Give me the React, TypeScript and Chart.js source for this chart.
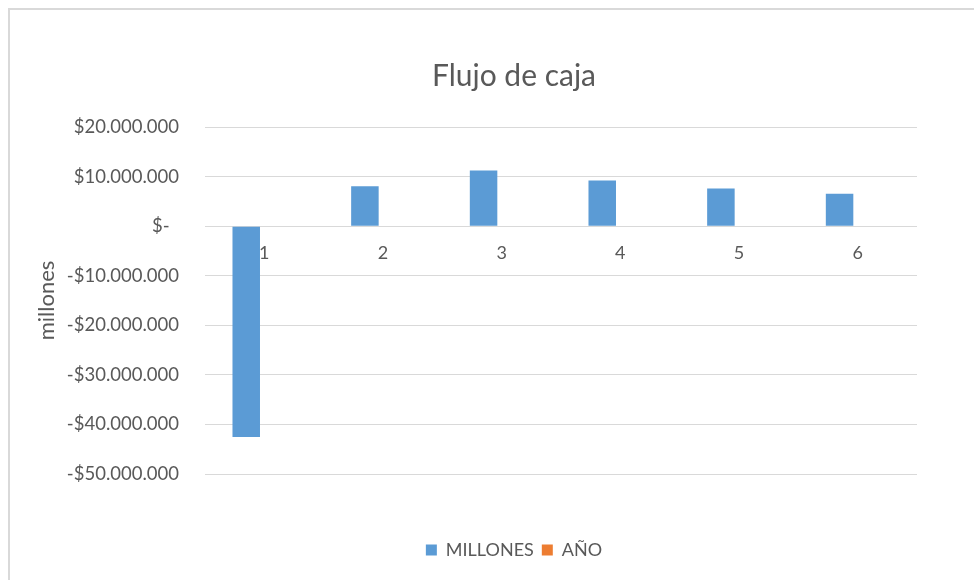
import React, { useEffect, useRef } from 'react';
import { Chart, registerables } from 'chart.js';

Chart.register(...registerables);

const categories = ['1', '2', '3', '4', '5', '6'];
const millones = [-42550000, 8070000, 11240000, 9220000, 7600000, 6540000];
const anio = [0, 0, 0, 0, 0, 0];
const seriesNames = ['MILLONES', 'AÑO'];
const chartTitle = 'Flujo de caja';
const yAxisTitle = 'millones';
const yMin = -50000000;
const yMax = 20000000;
const yStep = 10000000;

const TEXT = '#595959';
const GRID = '#d9d9d9';
const FONT = 'Lato, "Open Sans", sans-serif';

function formatMoney(v: number): string {
  if (v === 0) return '$-  ';
  const s = Math.abs(Math.round(v)).toString().replace(/\B(?=(\d{3})+(?!\d))/g, '.');
  return (v < 0 ? '-' : '') + '$' + s;
}

export default function App() {
  const ref = useRef<HTMLCanvasElement | null>(null);

  useEffect(() => {
    if (!ref.current) return;
    const chart = new Chart(ref.current, {
      type: 'bar',
      data: {
        labels: categories,
        datasets: [
          {
            label: seriesNames[0],
            data: millones,
            backgroundColor: '#5B9BD5',
            borderWidth: 0,
            categoryPercentage: 0.61,
            barPercentage: 0.76,
          },
          {
            label: seriesNames[1],
            data: anio,
            backgroundColor: '#ED7D31',
            borderWidth: 0,
            inflateAmount: 0,
            categoryPercentage: 0.61,
            barPercentage: 0.76,
          },
        ],
      },
      options: {
        responsive: false,
        animation: false,
        layout: { padding: { left: 0, right: 0, top: 0, bottom: 11 } },
        plugins: {
          title: {
            display: true,
            text: chartTitle,
            color: TEXT,
            font: { family: FONT, size: 30, weight: 'normal' },
            padding: { top: 48, bottom: 33 },
          },
          legend: {
            position: 'bottom',
            title: {
              display: true,
              text: '',
              font: { family: FONT, size: 10 },
              padding: { top: 47, bottom: 0 },
            },
            labels: {
              boxWidth: 11,
              boxHeight: 11,
              padding: 8,
              color: TEXT,
              font: { family: FONT, size: 18 },
            },
          },
          tooltip: { enabled: false },
        },
        scales: {
          x: {
            position: { y: 0 },
            grid: { display: false, drawTicks: false },
            border: { display: false },
            ticks: {
              color: TEXT,
              font: { family: FONT, size: 18 },
              padding: 16,
            },
          },
          y: {
            min: yMin,
            max: yMax,
            ticks: {
              stepSize: yStep,
              callback: (v: any) => formatMoney(Number(v)),
              color: TEXT,
              font: { family: FONT, size: 18.5 },
              padding: 26,
            },
            grid: { color: GRID, lineWidth: 1, drawTicks: false },
            border: { display: false },
            title: {
              display: true,
              text: yAxisTitle,
              color: TEXT,
              font: { family: FONT, size: 22 },
              padding: { top: 24, bottom: 0 },
            },
            afterFit: (s: any) => {
              s.width = 195;
            },
          },
          yRightSpace: {
            type: 'linear',
            position: 'right',
            display: true,
            grid: { display: false, drawTicks: false },
            border: { display: false },
            ticks: { display: false },
            afterFit: (s: any) => {
              s.width = 101;
            },
          },
        },
      },
    });
    return () => chart.destroy();
  }, []);

  return (
    <div
      style={{
        position: 'fixed',
        left: 8,
        top: 8,
        width: 980,
        height: 580,
        borderLeft: `2px solid ${GRID}`,
        borderTop: `2px solid ${GRID}`,
        overflow: 'hidden',
        background: '#fff',
      }}
    >
      <canvas ref={ref} width={1008} height={570} style={{ display: 'block' }} />
    </div>
  );
}
